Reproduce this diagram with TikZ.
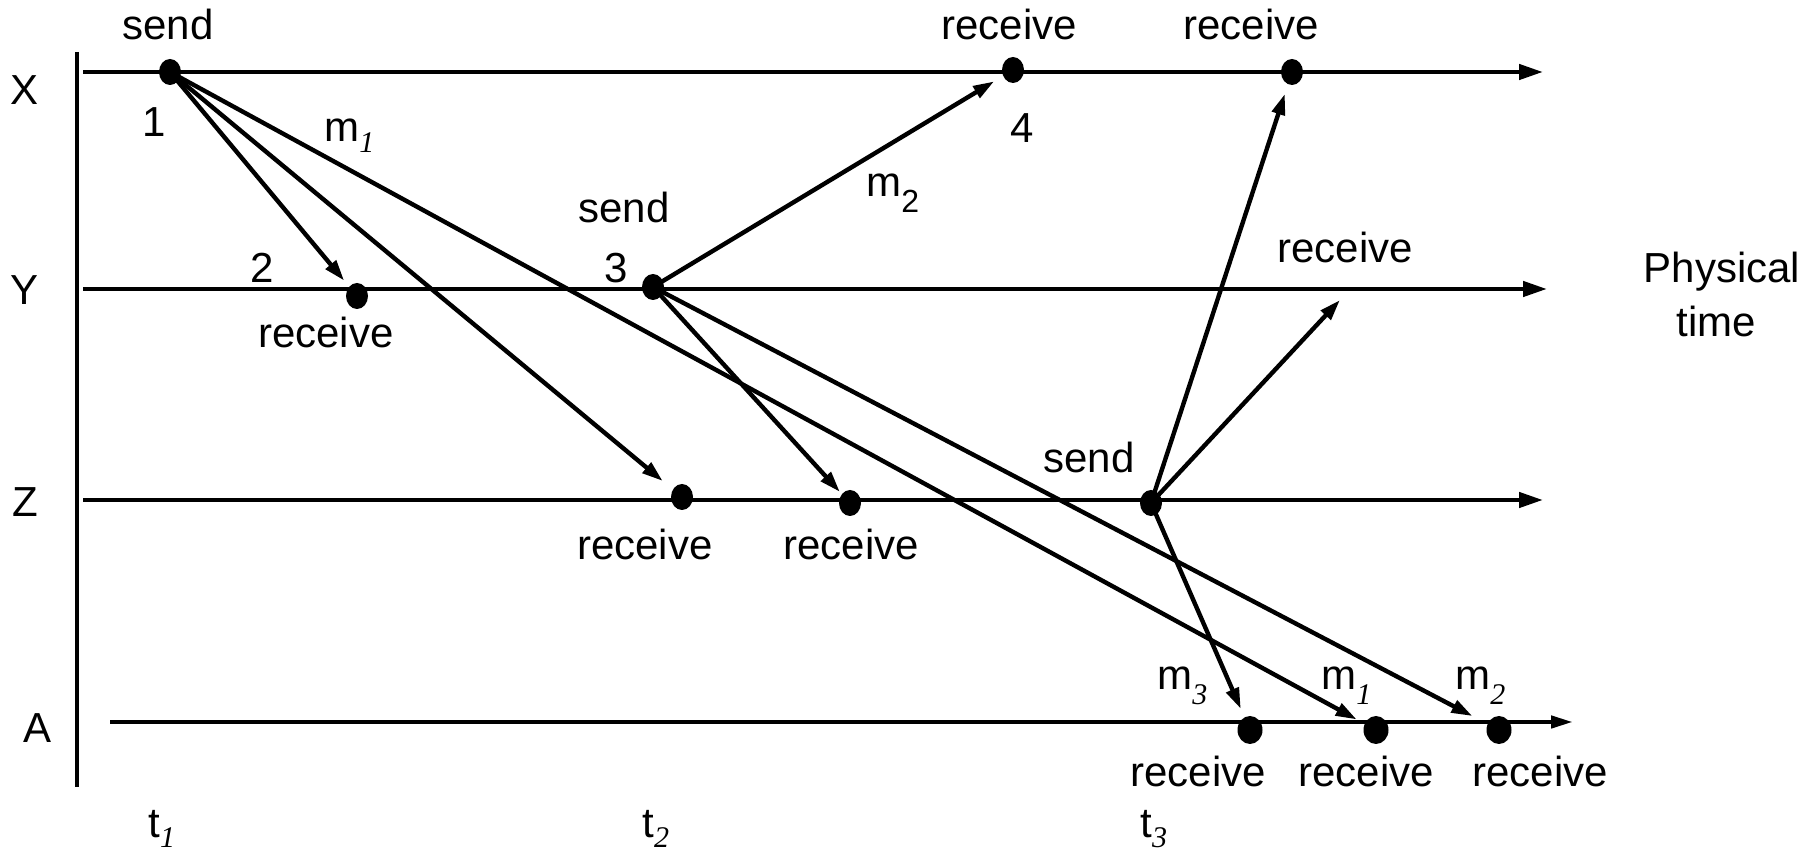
\documentclass[tikz,border=0pt]{standalone}
\usepackage{fontspec}
\setmainfont{Liberation Sans}
\newfontfamily\subserif{Liberation Serif}
\usetikzlibrary{arrows.meta,shapes.geometric}
\newcommand{\mysubi}[2][5.5pt]{\raisebox{-#1}{\fontsize{15}{15}\selectfont\subserif\itshape #2}}
\newcommand{\mysubs}[1]{\raisebox{-8pt}{\fontsize{16}{16}\selectfont #1}}
\begin{document}
\begin{tikzpicture}[x=0.5pt,y=-0.5pt,
  lbl/.style={anchor=base,inner sep=0pt,font=\fontsize{21}{21}\selectfont},
  lblw/.style={anchor=base west,inner sep=0pt,font=\fontsize{21}{21}\selectfont},
  dot/.style={ellipse,fill=black,inner sep=0pt,minimum width=11pt,minimum height=13pt},
  tline/.style={line width=2.2pt,-{Triangle[length=12pt,width=7.5pt]}},
  msg/.style={line width=2.2pt,-{Triangle[length=10.5pt,width=6.5pt]}},
]
\useasboundingbox (0,0) rectangle (1816,854);

% axis
\coordinate (va1) at (77,52);
\coordinate (va2) at (77,787);
\draw[line width=2.2pt] (va1) -- (va2);

% timelines
\coordinate (xs) at (83,72);   \coordinate (xe) at (1543,72);
\coordinate (ys) at (83,289);  \coordinate (ye) at (1547,289);
\coordinate (zs) at (83,500);  \coordinate (ze) at (1543,500);
\coordinate (as) at (110,722); \coordinate (ae) at (1573,722);
\draw[tline] (xs) -- (xe);
\draw[tline] (ys) -- (ye);
\draw[tline] (zs) -- (ze);
\draw[line width=2.2pt,-{Triangle[length=11pt,width=6pt]}] (as) -- (ae);

% process labels
\node[lbl] (lx) at (25,105) {X};
\node[lbl] (ly) at (25,305) {Y};
\node[lbl] (lz) at (25,517) {Z};
\node[lbl] (la) at (38,743) {A};

% events
\node[dot] (s1) at (170,72) {};
\node[dot] (r2) at (357,296) {};
\node[dot] (s3) at (653,287) {};
\node[dot] (r4) at (1013,70) {};
\node[dot] (rx) at (1292,72) {};
\node[dot] (rz1) at (682,497) {};
\node[dot] (rz2) at (850,503) {};
\node[dot] (sz) at (1151,503) {};
\node[dot,minimum width=12.5pt,minimum height=14pt] (ra1) at (1250,730) {};
\node[dot,minimum width=12.5pt,minimum height=14pt] (ra2) at (1376,730) {};
\node[dot,minimum width=12.5pt,minimum height=14pt] (ra3) at (1499,730) {};
\coordinate (fy) at (1340,300);

% messages
\draw[msg,shorten >=10pt] (s1.center) -- (r2.center);
\draw[msg,shorten >=12.5pt] (s1.center) -- (rz1.center);
\draw[msg,shorten >=11pt] (s1.center) -- (ra2.center);
\draw[msg,shorten >=11pt] (s3.center) -- (r4.center);
\draw[msg,shorten >=7.5pt] (s3.center) -- (rz2.center);
\draw[msg,shorten >=15pt] (s3.center) -- (ra3.center);
\draw[msg,shorten >=11.5pt] (sz.center) -- (rx.center);
\draw[msg] (sz.center) -- (fy);
\draw[msg,shorten >=11.5pt] (sz.center) -- (ra1.center);

% event labels
\node[lbl] (t-send1) at (168,40) {send};
\node[lbl] (t-1) at (154,137) {1};
\node[lblw] (t-m1a) at (324,142) {m\mysubi{1}};
\node[lbl] (t-2) at (262,283) {2};
\node[lbl] (t-rec2) at (326,348) {receive};
\node[lbl] (t-send3) at (624,223) {send};
\node[lbl] (t-3) at (616,283) {3};
\node[lblw] (t-m2a) at (866,197) {m\mysubs{2}};
\node[lbl] (t-rec4) at (1009,40) {receive};
\node[lbl] (t-4) at (1022,143) {4};
\node[lbl] (t-recx) at (1251,40) {receive};
\node[lbl] (t-recy) at (1345,263) {receive};
\node[lbl] (t-phys) at (1722,283) {Physical};
\node[lbl] (t-time) at (1716,337) {time};
\node[lbl] (t-recz1) at (645,560) {receive};
\node[lbl] (t-recz2) at (851,560) {receive};
\node[lbl] (t-sendz) at (1089,473) {send};
\node[lblw] (t-m3) at (1157,690) {m\mysubi[7.5pt]{3}};
\node[lblw] (t-m1b) at (1321,690) {m\mysubi[7.5pt]{1}};
\node[lblw] (t-m2b) at (1455,690) {m\mysubi[7.5pt]{2}};
\node[lbl] (t-reca1) at (1198,787) {receive};
\node[lbl] (t-reca2) at (1366,787) {receive};
\node[lbl] (t-reca3) at (1540,787) {receive};
\node[lblw] (t-t1) at (148,838) {t\mysubi[5pt]{1}};
\node[lblw] (t-t2) at (642,838) {t\mysubi[5pt]{2}};
\node[lblw] (t-t3) at (1140,838) {t\mysubi[5pt]{3}};
\end{tikzpicture}
\end{document}
